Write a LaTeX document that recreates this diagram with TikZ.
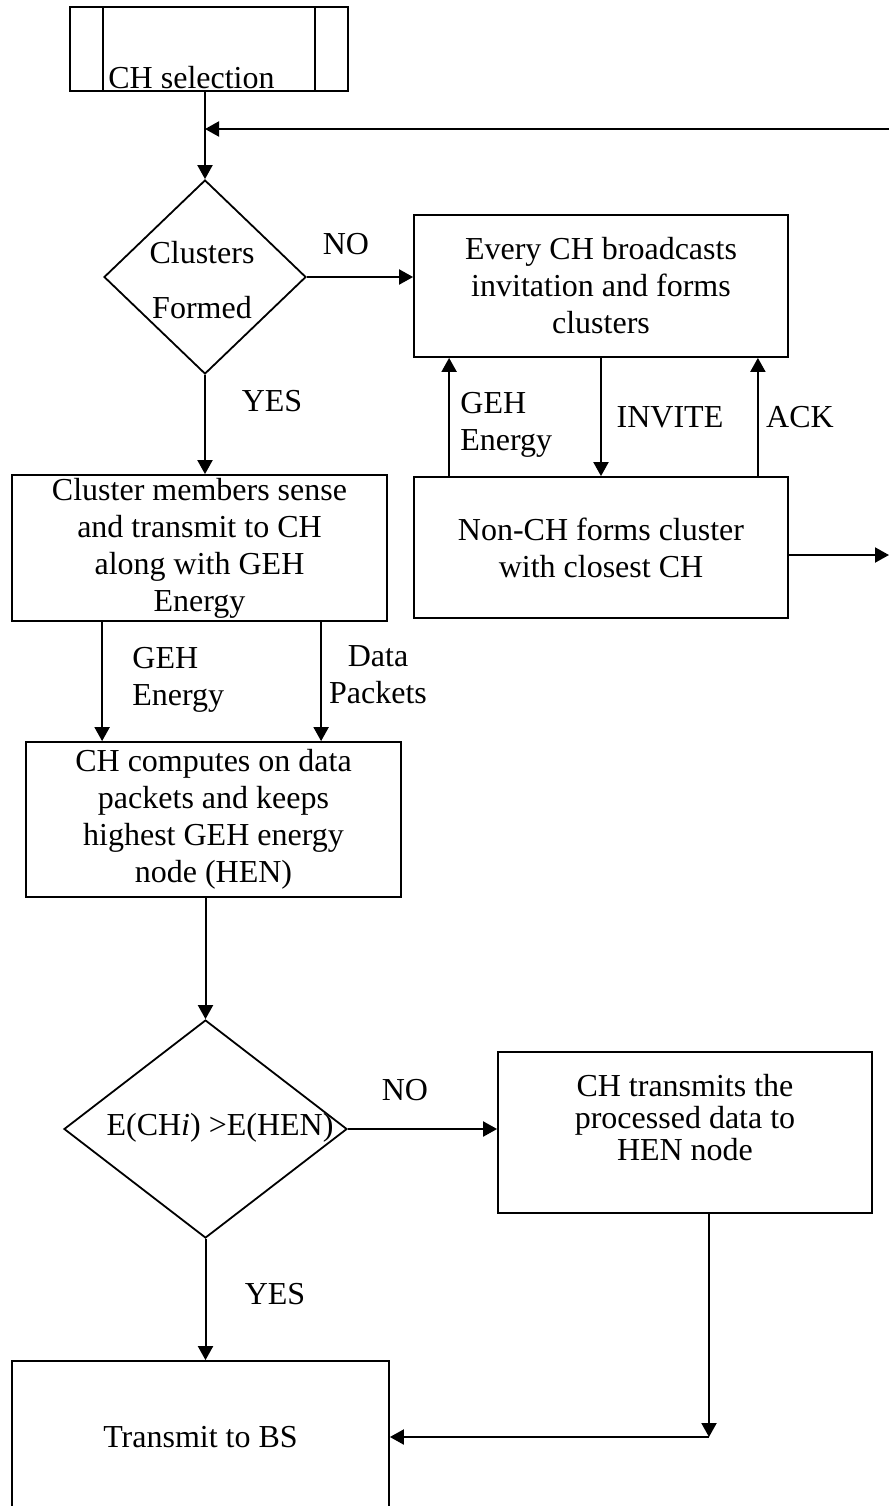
\documentclass[tikz,border=0pt]{standalone}
\usepackage{fontspec}
\setmainfont{Liberation Serif}
\usetikzlibrary{shapes.geometric,arrows.meta}
\begin{document}
\begin{tikzpicture}[x=0.5pt,y=-0.5pt,
  every node/.style={font=\fontsize{16}{18.5}\selectfont},
  box/.style={draw, line width=0.9pt, rectangle, inner sep=0pt, align=center},
  dia/.style={draw, line width=0.9pt, diamond, inner sep=0pt},
  arr/.style={line width=1pt, -{Triangle[length=7pt,width=7.5pt]}},
  lbl/.style={inner sep=0pt}]
\useasboundingbox (0,0) rectangle (889,1506);

% predefined process
\node[box, minimum width=139pt, minimum height=42pt] (pp) at (209,49) {};
\draw[line width=0.9pt] ([xshift=17pt]pp.north west) -- ([xshift=17pt]pp.south west);
\draw[line width=0.9pt] ([xshift=-17pt]pp.north east) -- ([xshift=-17pt]pp.south east);
\node[lbl, anchor=base west] (ppt) at (108,88) {CH selection};

% decision 1
\node[dia, minimum width=101pt, minimum height=97pt] (d1) at (205,277) {};
\node[lbl, align=center, font=\fontsize{16}{27.5}\selectfont] (d1t) at (202,280.5) {Clusters\\Formed};

% boxes
\node[box, minimum width=187pt, minimum height=71pt] (b2) at (601,286) {Every CH broadcasts\\invitation and forms\\clusters};
\node[box, minimum width=187pt, minimum height=70.5pt] (b3) at (601,547.5) {Non-CH forms cluster\\with closest CH};
\node[box, minimum width=187.5pt, minimum height=73pt] (b4) at (199.5,548) {Cluster members sense\\and transmit to CH\\along with GEH\\Energy};
\node[box, minimum width=187.5pt, minimum height=77.5pt] (b5) at (213.5,819.5) {CH computes on data\\packets and keeps\\highest GEH energy\\node (HEN)};

% decision 2
\node[dia, minimum width=141.5pt, minimum height=109pt] (d2) at (205.5,1129) {};
\node[lbl] (d2t) at (220,1128) {E(CH\textit{i}) >E(HEN)};

\node[box, minimum width=187pt, minimum height=80.5pt] (b6) at (685,1132.5) {};
\node[lbl, align=center, font=\fontsize{16}{16}\selectfont] (b6t) at (685,1118) {CH transmits the\\processed data to\\HEN node};
\node[box, minimum width=188.5pt, minimum height=76pt] (b7) at (200.5,1437) {Transmit to BS};

% labels
\node[lbl] (no1) at (346,244) {NO};
\node[lbl] (yes1) at (272,401) {YES};
\node[lbl, anchor=west, align=left] (geh1) at (460,425) {GEH\\Energy};
\node[lbl] (inv) at (670,417) {INVITE};
\node[lbl] (ack) at (800,417) {ACK};
\node[lbl, anchor=west, align=left] (geh2) at (132,680) {GEH\\Energy};
\node[lbl, align=center] (dp) at (378,675) {Data\\Packets};
\node[lbl] (no2) at (405,1090) {NO};
\node[lbl] (yes2) at (275,1294) {YES};

% coordinates
\coordinate (fb) at (889,129);
\coordinate (out) at (889,555);
\coordinate (g1) at ([xshift=45.5pt]b4.south west);
\coordinate (g2) at ([xshift=155pt]b4.south west);
\coordinate (h1) at ([xshift=12pt]b6.south);
\coordinate (corner) at (h1 |- b7.east);
\coordinate (u1) at ([xshift=18pt]b3.north west);
\coordinate (u2) at ([xshift=-15.5pt]b3.north east);

% connectors
\draw[arr] (pp.south -| d1.north) -- (d1.north);
\draw[arr] (fb) -- (fb -| d1.north);
\draw[arr] (d1.east) -- (d1.east -| b2.west);
\draw[arr] (d1.south) -- (d1.south |- b4.north);
\draw[arr] (u1) -- (u1 |- b2.south);
\draw[arr] (b2.south) -- (b3.north);
\draw[arr] (u2) -- (u2 |- b2.south);
\draw[arr] (b3.east |- out) -- (out);
\draw[arr] (g1) -- (g1 |- b5.north);
\draw[arr] (g2) -- (g2 |- b5.north);
\draw[arr] (d2.north |- b5.south) -- (d2.north);
\draw[arr] (d2.east) -- (d2.east -| b6.west);
\draw[arr] (d2.south) -- (d2.south |- b7.north);
\draw[arr] (h1) -- (corner);
\draw[arr] (corner) -- (b7.east);
\end{tikzpicture}
\end{document}
